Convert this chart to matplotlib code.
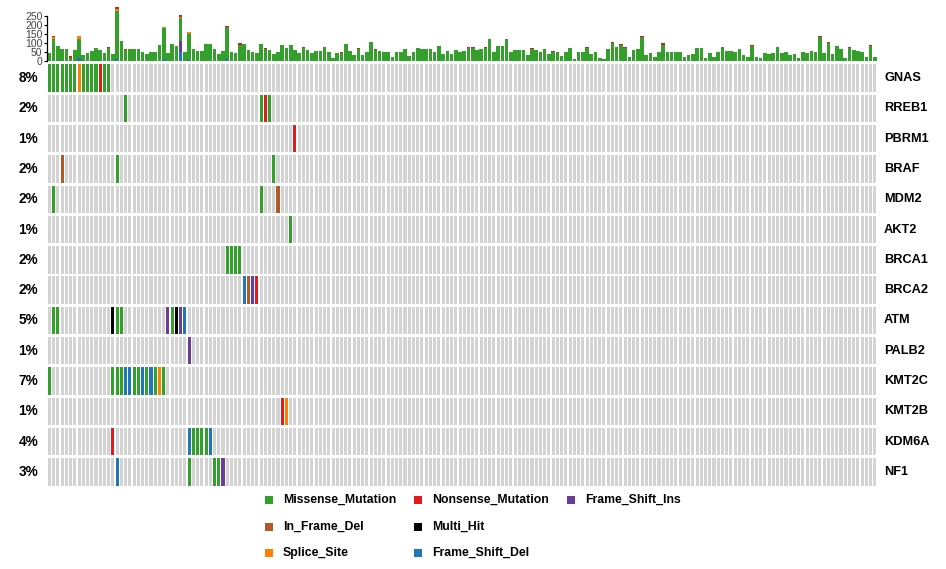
import matplotlib
matplotlib.use('Agg')
import matplotlib.pyplot as plt
from matplotlib.patches import Rectangle
from matplotlib.transforms import blended_transform_factory

plt.rcParams['font.family'] = ['Liberation Sans', 'DejaVu Sans']

N_SAMPLES = 196

genes = ['GNAS', 'RREB1', 'PBRM1', 'BRAF', 'MDM2', 'AKT2', 'BRCA1', 'BRCA2',
         'ATM', 'PALB2', 'KMT2C', 'KMT2B', 'KDM6A', 'NF1']

vc_colors = {
    'Missense_Mutation': '#33A02C',
    'Nonsense_Mutation': '#E31A1C',
    'Frame_Shift_Ins': '#6A3D9A',
    'In_Frame_Del': '#B15928',
    'Multi_Hit': '#000000',
    'Splice_Site': '#FF7F00',
    'Frame_Shift_Del': '#1F78B4',
}
MS, NS, FI, ID, MH, SS, FD = list(vc_colors.keys())

# mutations, MAF style (gene / sample column / class)
mut_gene = (['GNAS'] * 15 + ['RREB1'] * 4 + ['PBRM1'] + ['BRAF'] * 3 + ['MDM2'] * 3
            + ['AKT2'] + ['BRCA1'] * 4 + ['BRCA2'] * 4 + ['ATM'] * 10 + ['PALB2']
            + ['KMT2C'] * 14 + ['KMT2B'] * 2 + ['KDM6A'] * 7 + ['NF1'] * 5)
mut_sample = ([0, 1, 2, 3, 4, 5, 6, 7, 8, 9, 10, 11, 12, 13, 14]
              + [18, 50, 51, 52]
              + [58]
              + [3, 16, 53]
              + [1, 50, 54]
              + [57]
              + [42, 43, 44, 45]
              + [46, 47, 48, 49]
              + [1, 2, 15, 16, 17, 28, 29, 30, 31, 32]
              + [33]
              + [0, 15, 16, 17, 18, 19, 20, 21, 22, 23, 24, 25, 26, 27]
              + [55, 56]
              + [15, 33, 34, 35, 36, 37, 38]
              + [16, 33, 39, 40, 41])
mut_class = ([MS] * 7 + [SS] + [MS] * 4 + [NS] + [MS] * 2
             + [MS, MS, NS, MS]
             + [NS]
             + [ID, MS, MS]
             + [MS, MS, ID]
             + [MS]
             + [MS] * 4
             + [FD, ID, FI, NS]
             + [MS, MS, MH, MS, MS, FI, MS, MH, FI, FD]
             + [FI]
             + [MS, MS, MS, MS, FD, FD, MS, MS, FD, MS, FD, MS, SS, MS]
             + [NS, SS]
             + [NS, FD, MS, MS, MS, MS, FD]
             + [FD, MS, MS, MS, FI])

# total mutations per sample (top bar plot)
tmb_total = [44, 137, 83, 63, 67, 26, 59, 137, 31, 41, 56, 69, 59, 44, 78, 37,
             296, 111, 63, 63, 65, 63, 48, 35, 50, 50, 87, 185, 44, 93, 81, 254,
             50, 157, 65, 54, 54, 93, 93, 63, 35, 56, 193, 46, 41, 96, 93, 59,
             50, 41, 93, 69, 59, 37, 46, 87, 69, 87, 59, 44, 78, 59, 44, 56,
             56, 78, 46, 13, 41, 50, 91, 56, 31, 72, 31, 46, 106, 65, 54, 46,
             46, 19, 46, 46, 65, 26, 50, 69, 63, 65, 65, 50, 81, 37, 56, 37,
             59, 50, 56, 74, 74, 59, 65, 78, 120, 50, 81, 81, 119, 46, 59, 59,
             59, 31, 69, 59, 50, 63, 37, 54, 50, 26, 50, 72, 9, 50, 50, 78,
             37, 46, 13, 7, 63, 106, 78, 93, 78, 19, 59, 63, 139, 31, 41, 19,
             50, 96, 50, 46, 46, 46, 19, 31, 37, 72, 72, 13, 41, 19, 50, 78,
             56, 56, 50, 63, 31, 19, 87, 22, 13, 41, 37, 41, 78, 41, 46, 31,
             37, 13, 50, 41, 56, 46, 137, 41, 106, 37, 83, 65, 13, 78, 59, 56,
             50, 19, 87, 19]
tmb_nonsense = {1: 8, 5: 10, 14: 8, 16: 10, 18: 6, 31: 10, 42: 8, 45: 8, 51: 6,
                60: 6, 69: 6, 73: 6, 77: 6, 99: 6, 100: 6, 103: 6, 114: 6, 119: 6,
                127: 6, 133: 8, 135: 6, 136: 6, 140: 8, 145: 6, 166: 6, 182: 8,
                184: 8, 189: 6, 194: 6}
tmb_splice = {1: 6, 7: 15, 16: 10, 27: 5, 31: 8, 33: 6}
tmb_fsdel = {7: 15, 16: 12, 27: 8, 31: 50, 42: 8, 33: 5}
tmb_fsins = {31: 60}

fig = plt.figure(figsize=(9.46, 5.69), dpi=100)
W, H = 946, 569
x0, x1 = 47.3, 877.0

# ---- top bar plot ----
ax_top = fig.add_axes([x0 / W, 1 - 60.7 / H, (x1 - x0) / W, 54.0 / H])
samples = list(range(N_SAMPLES))
fd = [tmb_fsdel.get(i, 0) for i in samples]
fi = [tmb_fsins.get(i, 0) for i in samples]
ss = [tmb_splice.get(i, 0) for i in samples]
ns = [tmb_nonsense.get(i, 0) for i in samples]
ms = [t - a - b - c - d for t, a, b, c, d in zip(tmb_total, fd, fi, ss, ns)]
bottom = [0] * N_SAMPLES
for vals, cls in [(fd, FD), (fi, FI), (ms, MS), (ss, SS), (ns, NS)]:
    ax_top.bar(samples, vals, bottom=bottom, width=0.85, color=vc_colors[cls], linewidth=0)
    bottom = [b + v for b, v in zip(bottom, vals)]
ax_top.set_xlim(-0.5, N_SAMPLES - 0.5)
ax_top.set_ylim(0, 300)
ax_top.set_yticks([0, 50, 100, 150, 200, 250])
ax_top.tick_params(axis='y', labelsize=7.5, length=2.5, width=0.8, pad=1, labelcolor='#444444')
ax_top.set_xticks([])
for s in ['top', 'right', 'bottom']:
    ax_top.spines[s].set_visible(False)
ax_top.spines['left'].set_bounds(0, 250)
ax_top.spines['left'].set_linewidth(0.9)

# ---- oncoplot grid ----
ax = fig.add_axes([x0 / W, 1 - 487 / H, (x1 - x0) / W, 424 / H])
for r, g in enumerate(genes):
    ax.bar(samples, 0.91, bottom=r - 0.455, width=0.72, color='#D3D3D3', linewidth=0)
for g, s, c in zip(mut_gene, mut_sample, mut_class):
    r = genes.index(g)
    ax.bar(s, 0.91, bottom=r - 0.455, width=0.72, color=vc_colors[c], linewidth=0)
ax.set_xlim(-0.5, N_SAMPLES - 0.5)
ax.set_ylim(len(genes) - 0.5, -0.5)
ax.axis('off')

trans = blended_transform_factory(ax.transAxes, ax.transData)
for r, g in enumerate(genes):
    n_mut = len(set(s for gg, s in zip(mut_gene, mut_sample) if gg == g))
    pct = round(n_mut / N_SAMPLES * 100)
    ax.text(-0.011, r, f"{pct}%", transform=trans, ha='right', va='center',
            fontsize=9.8, fontweight='bold')
    ax.text(1.0085, r, g, transform=trans, ha='left', va='center',
            fontsize=9.2, fontweight='bold')

# ---- legend ----
legend_items = [(MS, 265, 500), (NS, 414, 500), (FI, 567, 500),
                (ID, 265, 527), (MH, 414, 527),
                (SS, 265, 553), (FD, 414, 553)]
sq = 8
for cls, px, py in legend_items:
    fig.add_artist(Rectangle((px / W, 1 - (py + sq / 2) / H), sq / W, sq / H,
                             transform=fig.transFigure, color=vc_colors[cls], linewidth=0))
    fig.text((px + 18) / W, 1 - py / H, cls, ha='left', va='center',
             fontsize=8.8, fontweight='bold')

fig.savefig('out.png', dpi=100)
